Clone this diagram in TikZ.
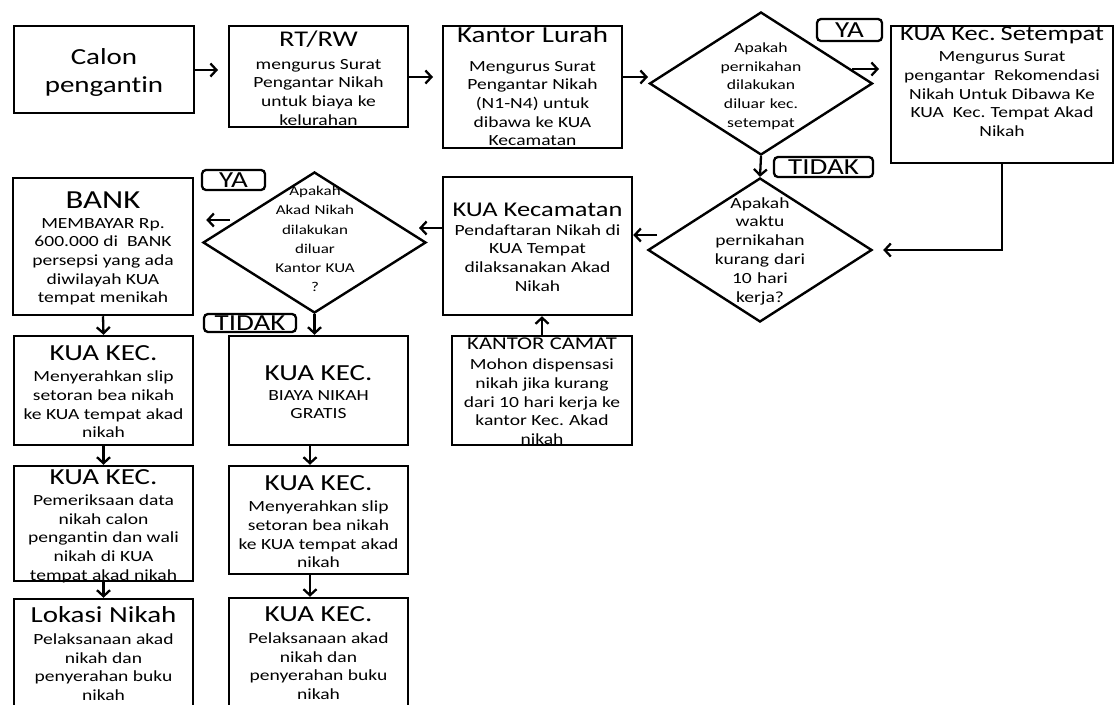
\documentclass[tikz,border=0pt]{standalone}
\usepackage{fontspec}
\setmainfont{Carlito}[FakeStretch=1.26, Ligatures=NoCommon]
\usetikzlibrary{arrows.meta,shapes.geometric}
\newcommand\fsz[2]{\fontsize{#1}{#2}\selectfont\spaceskip=0.29\dimexpr #1pt\relax\relax}
\newcommand\bdy{\fsz{15.5}{18.7}}
\newcommand\tbx[4]{{\fsz{#1}{#1}#2\par}\vspace{#3pt}{\bdy #4\par}}
\begin{document}
\begin{tikzpicture}[x=1pt,y=-1pt,
  box/.style={draw=black, line width=2.5pt, inner sep=0pt},
  txt/.style={text width=270pt, align=center, inner sep=0pt},
  dmd/.style={draw=black, diamond, line width=2.4pt, inner sep=0pt},
  lab/.style={draw=black, rounded corners=4pt, line width=2.3pt, inner sep=0pt, font=\fsz{23}{23}},
  arr/.style={line width=2.3pt, -{Straight Barb[length=6pt,width=13pt]}}]
\useasboundingbox[fill=white] (0,0) rectangle (1115,704);

% row 1
\node[box, minimum width=180pt, minimum height=87pt] (calon) at (104,69.5) {};
\node[txt, font=\fsz{23}{28}] (calont) at (104,72) {Calon\\pengantin};

\node[box, minimum width=179pt, minimum height=101pt] (rt) at (318.5,76.5) {};
\node[txt] (rtt) at (318.5,78) {\tbx{22.5}{RT/RW}{4.3}{mengurus Surat\\Pengantar Nikah\\untuk biaya ke\\kelurahan}};

\node[box, minimum width=179pt, minimum height=122pt] (lurah) at (532.5,87) {};
\node[txt] (lurt) at (532.5,86) {\tbx{23}{Kantor Lurah}{10.3}{Mengurus Surat\\Pengantar Nikah\\(N1-N4) untuk\\dibawa ke KUA\\Kecamatan}};

\node[dmd, minimum width=223pt, minimum height=143pt] (d1) at (761,83.5) {};
\node[txt, font=\fsz{14}{18.7}] (d1t) at (761,86) {Apakah\\pernikahan\\dilakukan\\diluar kec.\\setempat};

\node[lab, minimum width=65pt, minimum height=22pt] (ya1) at (849.5,30) {YA};

\node[box, minimum width=222pt, minimum height=137pt] (kset) at (1002,94.5) {};
\node[txt] (ksett) at (1002,82) {\tbx{21}{KUA Kec. Setempat}{2.3}{Mengurus Surat\\pengantar\ \ Rekomendasi\\Nikah Untuk Dibawa Ke\\KUA\ \ Kec. Tempat Akad\\Nikah}};

\node[lab, minimum width=99pt, minimum height=20pt] (tidak1) at (823.5,167) {TIDAK};

% row 2
\node[dmd, minimum width=224pt, minimum height=144pt] (d2) at (760,250) {};
\node[txt, font=\fsz{15.5}{18.8}] (d2t) at (760,251) {Apakah\\waktu\\pernikahan\\kurang dari\\10 hari\\kerja?};

\node[box, minimum width=189pt, minimum height=138pt] (kuakec) at (537.5,246) {};
\node[txt] (kuakect) at (537.5,247) {\tbx{21}{KUA Kecamatan}{0.3}{Pendaftaran Nikah di\\KUA Tempat\\dilaksanakan Akad\\Nikah}};

\node[box, minimum width=180pt, minimum height=109pt] (kcamat) at (542,390.5) {};
\node[txt] (kcamatt) at (542,391.5) {\tbx{18}{KANTOR CAMAT}{1.3}{Mohon dispensasi\\nikah jika kurang\\dari 10 hari kerja ke\\kantor Kec. Akad\\nikah}};

\node[dmd, minimum width=223pt, minimum height=141pt] (d3) at (314.5,242.5) {};
\node[txt, font=\fsz{13.5}{19.2}] (d3t) at (315,239) {Apakah\\Akad Nikah\\dilakukan\\diluar\\Kantor KUA\\?};

\node[lab, minimum width=63pt, minimum height=20pt] (ya2) at (233.5,180) {YA};
\node[lab, minimum width=92pt, minimum height=18pt] (tidak2) at (250,323) {TIDAK};

\node[box, minimum width=180pt, minimum height=137pt] (bank) at (103,246.5) {};
\node[txt] (bankt) at (103,248.5) {\tbx{26}{BANK}{1.3}{MEMBAYAR Rp.\\600.000 di\ \ BANK\\persepsi yang ada\\diwilayah KUA\\tempat menikah}};

% lower columns
\node[box, minimum width=179pt, minimum height=109pt] (L1) at (103.5,390.5) {};
\node[txt] (L1t) at (103.5,392) {\tbx{23}{KUA KEC.}{2.3}{Menyerahkan slip\\setoran bea nikah\\ke KUA tempat akad\\nikah}};

\node[box, minimum width=179pt, minimum height=109pt] (R1) at (318.5,390.5) {};
\node[txt] (R1t) at (318.5,392) {\tbx{23}{KUA KEC.}{1.3}{BIAYA NIKAH\\GRATIS}};

\node[box, minimum width=179pt, minimum height=115pt] (L2) at (103.5,523.5) {};
\node[txt] (L2t) at (103.5,526) {\tbx{23}{KUA KEC.}{2.3}{Pemeriksaan data\\nikah calon\\pengantin dan wali\\nikah di KUA\\tempat akad nikah}};

\node[box, minimum width=179pt, minimum height=108pt] (R2) at (318.5,520) {};
\node[txt] (R2t) at (318.5,522) {\tbx{23}{KUA KEC.}{2.3}{Menyerahkan slip\\setoran bea nikah\\ke KUA tempat akad\\nikah}};

\node[box, minimum width=179pt, minimum height=121pt] (L3) at (103.5,659.5) {};
\node[txt] (L3t) at (103.5,653.5) {\tbx{23}{Lokasi Nikah}{3.3}{Pelaksanaan akad\\nikah dan\\penyerahan buku\\nikah}};

\node[box, minimum width=179pt, minimum height=122pt] (R3) at (318.5,659) {};
\node[txt] (R3t) at (318.5,653) {\tbx{23}{KUA KEC.}{3.3}{Pelaksanaan akad\\nikah dan\\penyerahan buku\\nikah}};

% connectors
\coordinate (e1) at (218,70);
\draw[arr] (calon.east |- e1) -- (e1);
\coordinate (e2) at (433,77);
\draw[arr] (rt.east |- e2) -- (e2);
\coordinate (e3) at (648,77);
\draw[arr] (lurah.east |- e3) -- (e3);
\coordinate (s4) at (852,69);
\coordinate (e4) at (879,69);
\draw[arr] (s4) -- (e4);
\draw[arr] (d1.south) -- (d2.north);
\draw[arr, shorten >=10pt] (kset.south) |- (d2.east);
\coordinate (s6) at (657,235);
\draw[arr] (s6) -- (kuakec.east |- s6);
\coordinate (e7) at (419,228);
\draw[arr] (kuakec.west |- e7) -- (e7);
\draw[arr] (kcamat.north) -- (kuakec.south -| kcamat.north);
\coordinate (s8) at (230,220);
\draw[arr, shorten >=12pt] (s8) -- (bank.east |- s8);
\draw[arr] (bank.south) -- (L1.north);
\draw[arr] (d3.south) -- (R1.north -| d3.south);
\draw[arr] (L1.south) -- (L2.north);
\coordinate (xR) at (310,0);
\draw[arr] (R1.south -| xR) -- (R2.north -| xR);
\draw[arr] (L2.south) -- (L3.north);
\draw[arr] (R2.south -| xR) -- (R3.north -| xR);
\end{tikzpicture}
\end{document}
